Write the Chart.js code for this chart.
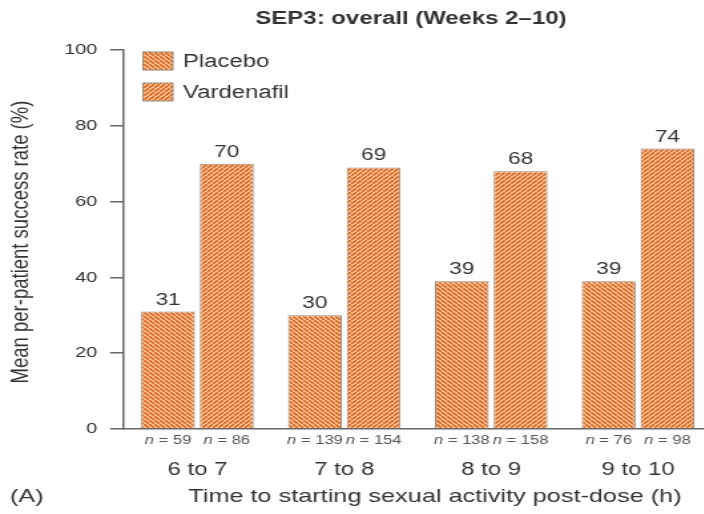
<!DOCTYPE html>
<html>
<head>
<meta charset="utf-8">
<script src="https://cdn.jsdelivr.net/npm/chart.js@4/dist/chart.umd.min.js"></script>
<style>
  html, body { margin: 0; padding: 0; background: #fff; overflow: hidden; width: 704px; height: 514px; }
  #wrap { position: absolute; left: 0; top: 0; transform: scaleX(1.33); transform-origin: 0 0; }
</style>
</head>
<body>
<div id="wrap"><canvas id="c" width="540" height="514"></canvas></div>
<script>
// ---- data ----
const categories = ['6 to 7', '7 to 8', '8 to 9', '9 to 10'];
const placeboRate = [31, 30, 39, 39];
const vardenafilRate = [70, 69, 68, 74];
const placeboN = [59, 139, 138, 76];
const vardenafilN = [86, 154, 158, 98];
const seriesNames = ['Placebo', 'Vardenafil'];
const chartTitle = 'SEP3: overall (Weeks 2\u201310)';
const yTitle = 'Mean per-patient success rate (%)';
const xTitle = 'Time to starting sexual activity post-dose (h)';
const panelLabel = '(A)';

const FONT = '"Liberation Sans", Arial, Helvetica, sans-serif';
const TEXT = '#333333';

function makePattern(dir) {
  const T = 4;
  const c = document.createElement('canvas');
  c.width = T; c.height = T;
  const g = c.getContext('2d');
  g.fillStyle = '#fbe0c6';
  g.fillRect(0, 0, T, T);
  g.strokeStyle = '#e16f28';
  g.lineWidth = 2;
  g.beginPath();
  for (let k = -1; k <= 1; k++) {
    if (dir === 'down') { g.moveTo(k * T, 0); g.lineTo(k * T + T, T); }
    else { g.moveTo(k * T, T); g.lineTo(k * T + T, 0); }
  }
  g.stroke();
  return document.getElementById('c').getContext('2d').createPattern(c, 'repeat');
}
const patPlacebo = makePattern('down');
const patVard = makePattern('up');

const nLists = [placeboN, vardenafilN];

const annot = {
  id: 'annot',
  afterDatasetsDraw(chart) {
    const ctx = chart.ctx;
    const xAxisY = chart.scales.y.getPixelForValue(0);
    ctx.save();
    chart.data.datasets.forEach((ds, di) => {
      const meta = chart.getDatasetMeta(di);
      meta.data.forEach((bar, i) => {
        ctx.font = '17px ' + FONT;
        ctx.fillStyle = TEXT;
        ctx.textAlign = 'center';
        ctx.textBaseline = 'alphabetic';
        ctx.fillText(String(ds.data[i]), bar.x, bar.y - 7);
        const num = ' = ' + nLists[di][i];
        ctx.font = 'italic 12.5px ' + FONT;
        const w1 = ctx.measureText('n').width;
        ctx.font = '12.5px ' + FONT;
        const w2 = ctx.measureText(num).width;
        const x0 = bar.x - (w1 + w2) / 2;
        ctx.fillStyle = '#555';
        ctx.textAlign = 'left';
        ctx.textBaseline = 'middle';
        ctx.font = 'italic 12.5px ' + FONT;
        ctx.fillText('n', x0, xAxisY + 12);
        ctx.font = '12.5px ' + FONT;
        ctx.fillText(num, x0 + w1, xAxisY + 12);
      });
    });
    ctx.restore();
  },
  afterDraw(chart) {
    const ctx = chart.ctx;
    ctx.save();
    ctx.fillStyle = TEXT;
    ctx.font = 'bold 18px ' + FONT;
    ctx.textAlign = 'center';
    ctx.textBaseline = 'middle';
    ctx.fillText(chartTitle, 309, 19);
    ctx.font = '19px ' + FONT;
    ctx.fillText(xTitle, 327, 497);
    ctx.textAlign = 'left';
    ctx.fillText(panelLabel, 7.5, 497);
    ctx.save();
    ctx.translate(16, 242);
    ctx.rotate(-Math.PI / 2);
    ctx.textAlign = 'center';
    ctx.font = '18.5px ' + FONT;
    ctx.fillText(yTitle, 0, 0);
    ctx.restore();
    const pats = [patPlacebo, patVard];
    const ys = [61, 92];
    seriesNames.forEach((name, i) => {
      ctx.fillStyle = pats[i];
      ctx.fillRect(107.5, ys[i] - 9, 22.5, 18);
      ctx.strokeStyle = '#9a8776';
      ctx.lineWidth = 1;
      ctx.strokeRect(107.5, ys[i] - 9, 22.5, 18);
      ctx.fillStyle = TEXT;
      ctx.font = '18px ' + FONT;
      ctx.textAlign = 'left';
      ctx.textBaseline = 'middle';
      ctx.fillText(name, 137.5, ys[i] + 1);
    });
    ctx.restore();
  }
};

new Chart(document.getElementById('c'), {
  type: 'bar',
  data: {
    labels: categories,
    datasets: [
      { label: seriesNames[0], data: placeboRate, backgroundColor: patPlacebo, borderColor: '#9a8776', borderWidth: 1 },
      { label: seriesNames[1], data: vardenafilRate, backgroundColor: patVard, borderColor: '#9a8776', borderWidth: 1 }
    ]
  },
  options: {
    responsive: false,
    animation: false,
    devicePixelRatio: 1,
    layout: { padding: { left: 0, top: 50, right: 5, bottom: 0 } },
    datasets: { bar: { categoryPercentage: 0.80, barPercentage: 0.915 } },
    plugins: { legend: { display: false }, title: { display: false }, tooltip: { enabled: false } },
    scales: {
      x: {
        grid: { display: false },
        border: { display: true, color: '#666', width: 1.5 },
        ticks: { font: { size: 18, family: FONT }, color: TEXT, padding: 22 },
        afterFit(s) { s.height = 85; }
      },
      y: {
        min: 0, max: 100,
        grid: { drawOnChartArea: false, drawTicks: true, tickLength: 10.5, color: '#666', lineWidth: 1.5 },
        border: { display: true, color: '#666', width: 1.5 },
        ticks: { stepSize: 20, font: { size: 15, family: FONT }, color: TEXT, padding: 9.5 },
        afterFit(s) { s.width = 93.2; }
      }
    }
  },
  plugins: [annot]
});
</script>
</body>
</html>
